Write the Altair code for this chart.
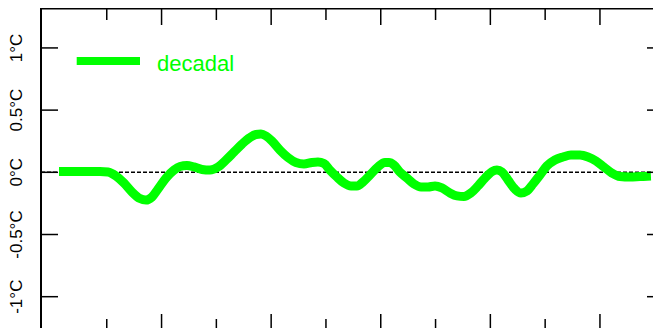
import altair as alt
import pandas as pd

# decadal temperature anomaly (°C) against year
years = [1006.4, 1025.5, 1043.8, 1051.1, 1058.4, 1065.7, 1073.0, 1080.3, 1085.8, 1091.2,
         1096.7, 1104.0, 1111.3, 1116.8, 1123.2, 1129.6, 1136.9, 1144.2, 1151.5, 1158.8,
         1166.1, 1173.4, 1180.7, 1186.1, 1190.7, 1195.3, 1200.7, 1208.0, 1215.3, 1222.6,
         1229.9, 1237.2, 1242.7, 1248.2, 1253.6, 1260.0, 1266.4, 1272.8, 1278.3, 1283.8,
         1290.1, 1297.4, 1303.8, 1307.5, 1312.0, 1317.5, 1323.9, 1330.3, 1336.7, 1343.1,
         1349.5, 1355.8, 1363.1, 1369.5, 1375.9, 1382.3, 1388.7, 1395.1, 1401.5, 1406.0,
         1410.6, 1416.1, 1422.4, 1427.9, 1433.4, 1438.9, 1445.3, 1451.6, 1458.9, 1466.2,
         1473.5, 1481.8, 1489.1, 1496.4, 1503.6, 1510.9, 1518.2, 1527.4, 1536.5, 1546.5]
decadal = [0.006, 0.006, 0.006, 0.002, -0.030, -0.086, -0.158, -0.211, -0.223, -0.199,
           -0.135, -0.046, 0.018, 0.047, 0.055, 0.043, 0.023, 0.018, 0.043, 0.099,
           0.163, 0.227, 0.280, 0.304, 0.308, 0.292, 0.252, 0.179, 0.119, 0.079,
           0.067, 0.079, 0.083, 0.071, 0.018, -0.038, -0.086, -0.110, -0.110, -0.078,
           -0.022, 0.043, 0.079, 0.079, 0.059, 0.002, -0.046, -0.094, -0.118, -0.118,
           -0.110, -0.126, -0.166, -0.190, -0.195, -0.166, -0.110, -0.046, 0.006, 0.018,
           0.002, -0.062, -0.135, -0.166, -0.150, -0.094, -0.022, 0.051, 0.099, 0.123,
           0.139, 0.139, 0.123, 0.091, 0.043, -0.006, -0.034, -0.038, -0.034, -0.030]

major_x_ticks = [1100, 1200, 1300, 1400, 1500]
minor_x_ticks = [1050, 1150, 1250, 1350, 1450, 1550]
y_ticks = [-1.0, -0.5, 0.0, 0.5, 1.0]
y_labels = ["-1°C", "-0.5°C", "0°C", "0.5°C", "1°C"]

W, H = 620, 328
PAD_R, PAD_B = -8, -8
VIS_W, VIS_H = W + PAD_R, H + PAD_B   # visible part of the plot area
GREEN = "#00FF00"

xs = alt.Scale(domain=[990, 1555.7], nice=False, zero=False)
ys = alt.Scale(domain=[-1.316, 1.321], nice=False, zero=False)

curve_df = pd.DataFrame({"year": years, "anom": decadal})
maj_df = pd.DataFrame({"t": major_x_ticks})
min_df = pd.DataFrame({"t": minor_x_ticks})
yt_df = pd.DataFrame({"v": y_ticks, "label": y_labels})
one = pd.DataFrame({"v": [0.0]})

X = lambda f: alt.X(f, scale=xs, axis=None)
Y = lambda f: alt.Y(f, scale=ys, axis=None)

zero_line = alt.Chart(one).mark_rule(color="black", strokeWidth=1.5, strokeDash=[4, 2]).encode(
    y=Y("v:Q"), x=alt.value(0), x2=alt.value(W))

curve = alt.Chart(curve_df).mark_line(color=GREEN, strokeWidth=9, interpolate="monotone").encode(
    x=X("year:Q"), y=Y("anom:Q"))

frame_left = alt.Chart(one).mark_rule(color="black", strokeWidth=2).encode(
    x=alt.value(0), y=alt.value(0), y2=alt.value(H))
frame_top = alt.Chart(one).mark_rule(color="black", strokeWidth=2).encode(
    y=alt.value(0.5), x=alt.value(0), x2=alt.value(W))

top_major = alt.Chart(maj_df).mark_rule(color="black", strokeWidth=1.5).encode(
    x=X("t:Q"), y=alt.value(0), y2=alt.value(17))
top_minor = alt.Chart(min_df).mark_rule(color="black", strokeWidth=1.5).encode(
    x=X("t:Q"), y=alt.value(0), y2=alt.value(12))
bot_major = alt.Chart(maj_df).mark_rule(color="black", strokeWidth=1.5).encode(
    x=X("t:Q"), y=alt.value(VIS_H - 14), y2=alt.value(VIS_H))
bot_minor = alt.Chart(min_df).mark_rule(color="black", strokeWidth=1.5).encode(
    x=X("t:Q"), y=alt.value(VIS_H - 9), y2=alt.value(VIS_H))

left_ticks = alt.Chart(yt_df).mark_rule(color="black", strokeWidth=1.5).encode(
    y=Y("v:Q"), x=alt.value(0), x2=alt.value(17))
right_ticks = alt.Chart(yt_df).mark_rule(color="black", strokeWidth=1.5).encode(
    y=Y("v:Q"), x=alt.value(VIS_W - 6), x2=alt.value(VIS_W))

y_text = alt.Chart(yt_df).mark_text(angle=270, align="center", baseline="middle",
                                    font="Liberation Sans", fontSize=17, color="black").encode(
    y=Y("v:Q"), x=alt.value(-24.5), text="label:N")

leg_line = alt.Chart(one).mark_rule(color=GREEN, strokeWidth=8).encode(
    x=alt.value(35.7), x2=alt.value(99), y=alt.value(53))
leg_text = alt.Chart(pd.DataFrame({"name": ["decadal"]})).mark_text(
    align="left", baseline="alphabetic", font="Liberation Sans", fontSize=22, color=GREEN).encode(
    x=alt.value(116), y=alt.value(63), text="name:N")

chart = alt.layer(
    zero_line, curve, frame_left, frame_top, top_major, top_minor, bot_major, bot_minor,
    left_ticks, right_ticks, y_text, leg_line, leg_text
).properties(
    width=W, height=H, autosize=alt.AutoSizeParams(type="none"),
    padding={"left": 33, "top": 0, "right": PAD_R, "bottom": PAD_B}
).configure_view(stroke=None).configure(background="white")

chart.save("out.html", embed_options={"renderer": "svg", "actions": False})
